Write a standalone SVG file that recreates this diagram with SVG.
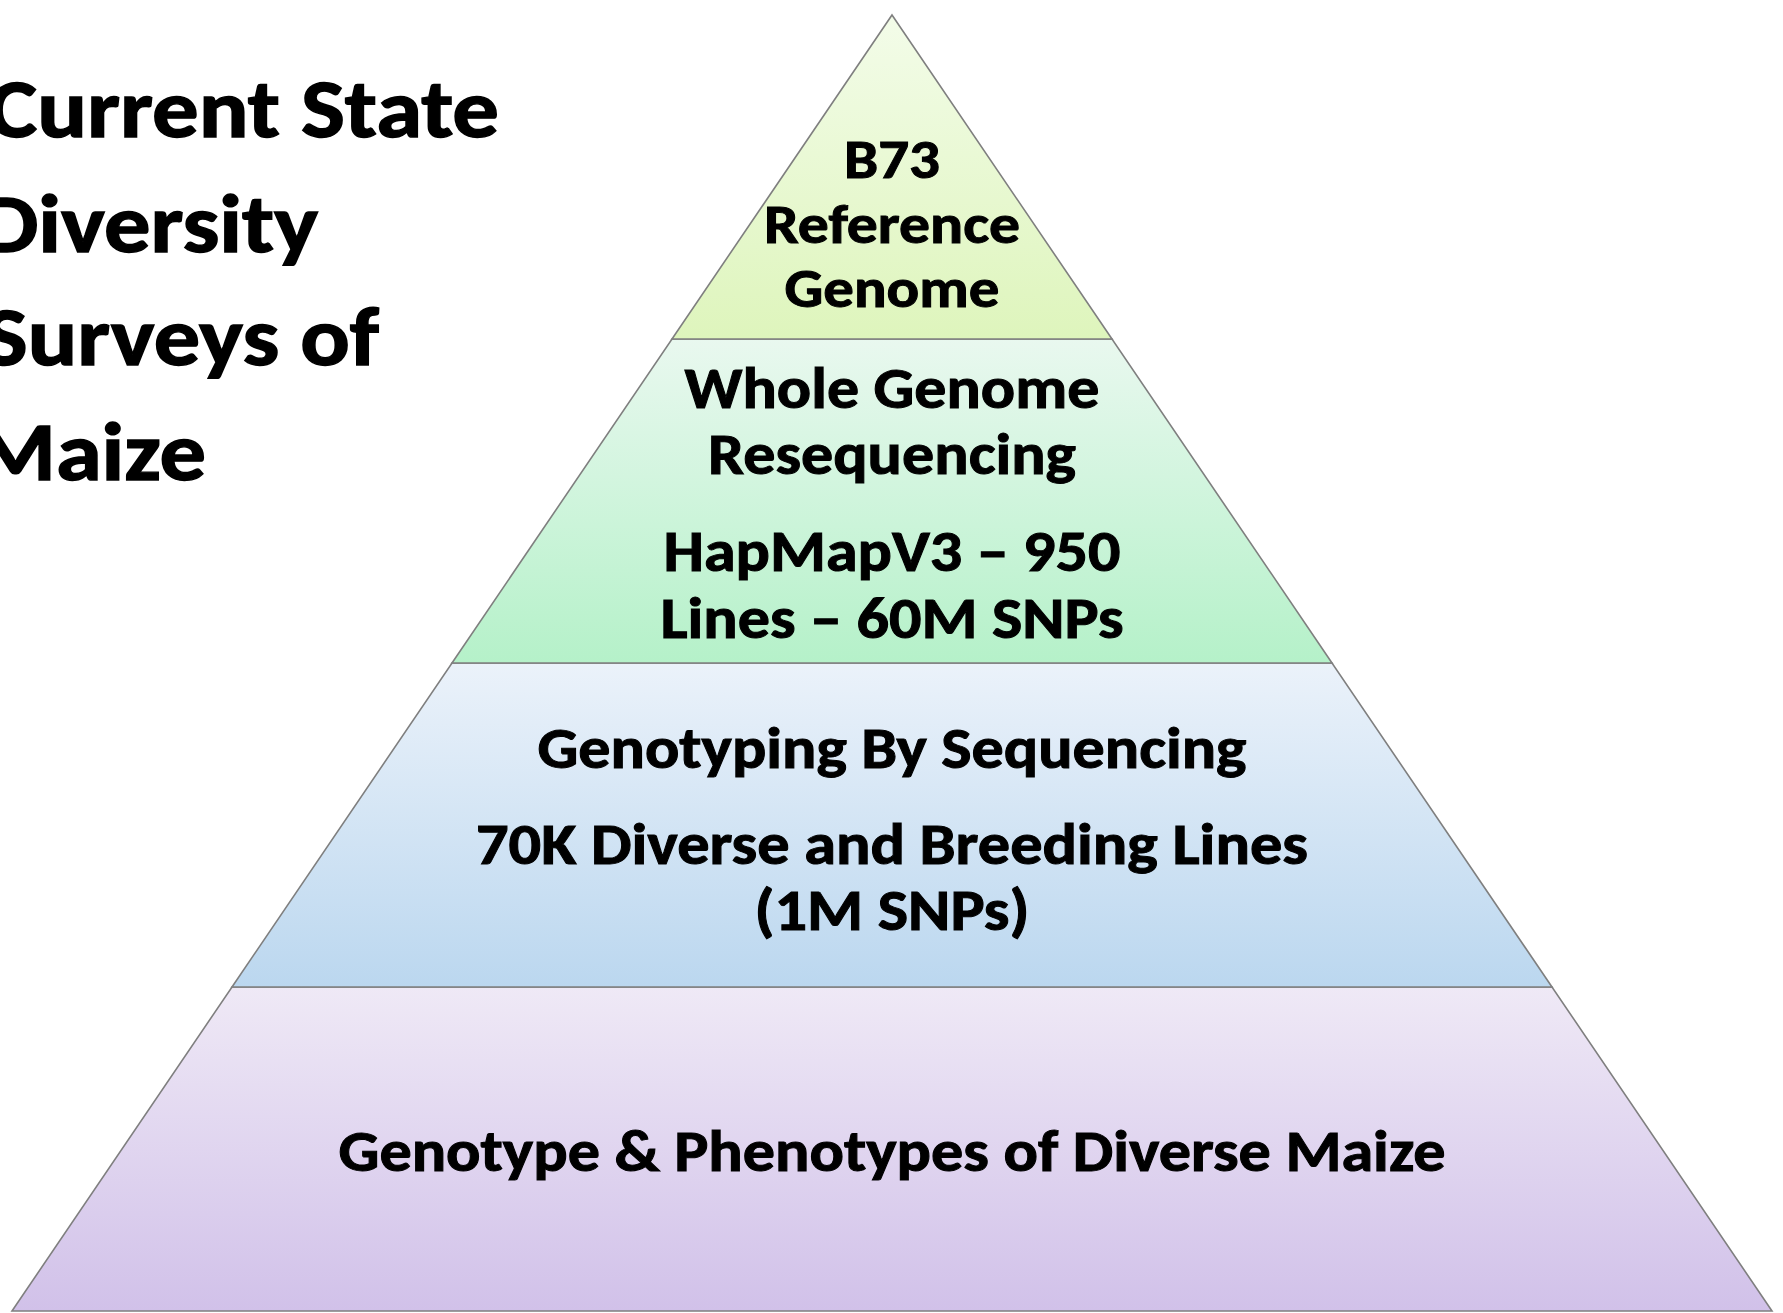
<svg xmlns="http://www.w3.org/2000/svg" width="1783" height="1313" viewBox="0 0 1783 1313">
<style>
  .tier { stroke: #7f7f7f; stroke-width: 1.6; stroke-linejoin: miter; }
  .t { font-family: Carlito, "Open Sans", "Noto Sans", sans-serif; font-weight: bold; fill: #000; stroke: #000; stroke-width: 1; text-anchor: middle; }
  .title { font-family: Carlito, "Open Sans", "Noto Sans", sans-serif; font-weight: bold; fill: #000; stroke: #000; stroke-width: 1.4; font-size: 82px; }
  .s1 { font-size: 55px; }
  .s2 { font-size: 58px; }
</style>
<defs>
  <linearGradient id="g1" x1="0" y1="0" x2="0" y2="1">
    <stop offset="0" stop-color="#f3fce9"/>
    <stop offset="1" stop-color="#def5bc"/>
  </linearGradient>
  <linearGradient id="g2" x1="0" y1="0" x2="0" y2="1">
    <stop offset="0" stop-color="#e9f8ef"/>
    <stop offset="1" stop-color="#b5f1c9"/>
  </linearGradient>
  <linearGradient id="g3" x1="0" y1="0" x2="0" y2="1">
    <stop offset="0" stop-color="#ebf2fa"/>
    <stop offset="1" stop-color="#bbd7ef"/>
  </linearGradient>
  <linearGradient id="g4" x1="0" y1="0" x2="0" y2="1">
    <stop offset="0" stop-color="#efe9f6"/>
    <stop offset="1" stop-color="#d1c1e9"/>
  </linearGradient>
</defs>
<rect width="1783" height="1313" fill="#ffffff"/>

<g id="title">
  <text class="title" x="-12" y="137" textLength="511" lengthAdjust="spacingAndGlyphs">Current State</text>
  <text class="title" x="-20" y="252" textLength="338" lengthAdjust="spacingAndGlyphs">Diversity</text>
  <text class="title" x="-16" y="365" textLength="395" lengthAdjust="spacingAndGlyphs">Surveys of</text>
  <text class="title" x="-25" y="480" textLength="231" lengthAdjust="spacingAndGlyphs">Maize</text>
</g>

<g id="tier4-genotype-phenotypes">
  <polygon class="tier" fill="url(#g4)" points="232,987 1552,987 1772,1311 12,1311"/>
  <text class="t s2" x="892" y="1171" textLength="1107" lengthAdjust="spacingAndGlyphs">Genotype &amp; Phenotypes of Diverse Maize</text>
</g>

<g id="tier3-gbs">
  <polygon class="tier" fill="url(#g3)" points="452,663 1332,663 1552,987 232,987"/>
  <text class="t s2" x="892" y="768" textLength="709" lengthAdjust="spacingAndGlyphs">Genotyping By Sequencing</text>
  <text class="t s2" x="892" y="864" textLength="832" lengthAdjust="spacingAndGlyphs">70K Diverse and Breeding Lines</text>
  <text class="t s2" x="892" y="930" textLength="275" lengthAdjust="spacingAndGlyphs">(1M SNPs)</text>
</g>

<g id="tier2-wgs">
  <polygon class="tier" fill="url(#g2)" points="672,339 1112,339 1332,663 452,663"/>
  <text class="t s2" x="892" y="408" textLength="415" lengthAdjust="spacingAndGlyphs">Whole Genome</text>
  <text class="t s2" x="892" y="474" textLength="368" lengthAdjust="spacingAndGlyphs">Resequencing</text>
  <text class="t s2" x="892" y="571" textLength="457" lengthAdjust="spacingAndGlyphs">HapMapV3 – 950</text>
  <text class="t s2" x="892" y="638" textLength="463" lengthAdjust="spacingAndGlyphs">Lines – 60M SNPs</text>
</g>

<g id="tier1-b73">
  <polygon class="tier" fill="url(#g1)" points="892,15 1112,339 672,339"/>
  <text class="t s1" x="892" y="178" textLength="96" lengthAdjust="spacingAndGlyphs">B73</text>
  <text class="t s1" x="892" y="243" textLength="256" lengthAdjust="spacingAndGlyphs">Reference</text>
  <text class="t s1" x="892" y="307" textLength="215" lengthAdjust="spacingAndGlyphs">Genome</text>
</g>

<g id="connectors"/>
</svg>
